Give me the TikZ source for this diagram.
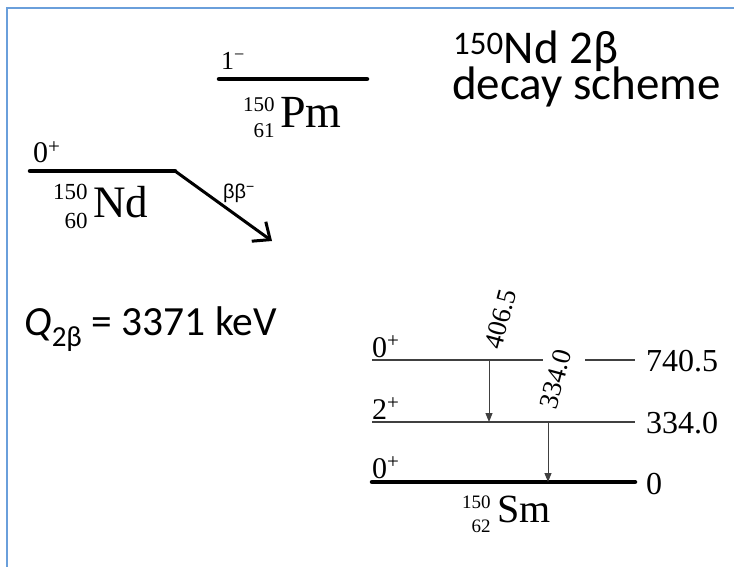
\documentclass[tikz,border=0pt]{standalone}
\usepackage{fontspec}
\setmainfont{Liberation Serif}
\newfontfamily\slidefont{Carlito}
\newfontfamily\labelsans{Liberation Sans}
\usetikzlibrary{arrows.meta}
\definecolor{FrameBlue}{HTML}{6A9FDB}
\definecolor{LevelGray}{HTML}{404040}
% nuclide: script size, row distance, mass, charge, symbol
\newcommand{\nuc}[5]{{\fontsize{#1}{#2}\selectfont\raisebox{-10pt}{\begin{tabular}[b]{@{}r@{}}#3\\#4\end{tabular}}}\kern.12em#5}
\tikzset{
    % Thin level line style
    levelline/.style={
        line width=1.1pt,
        draw=LevelGray
    },
    % Ground level line style
    groundline/.style={
        line width=4.5pt,
        draw=black,
        line cap=round
    },
    % Gamma transition arrow
    gammaarrow/.style={
        -{Triangle[length=9pt,width=7pt]},
        line width=1pt,
        draw=LevelGray,
        fill=LevelGray
    },
    % Beta decay arrow
    betaarrow/.style={
        -{Straight Barb[length=14pt,width=24pt,line width=3pt]},
        line width=3pt,
        draw=black
    },
    % Spin label
    spinlabel/.style={
        font=\fontsize{30}{30}\selectfont,
        inner sep=0pt,
        anchor=base west
    },
    % Energy label
    energylabel/.style={
        font=\fontsize{32}{32}\selectfont,
        inner sep=0pt,
        anchor=west
    },
    % Gamma energy label
    gammalabel/.style={
        font=\fontsize{27}{27}\selectfont,
        inner sep=0pt,
        rotate=75,
        anchor=base west
    },
    % Nuclide label
    nuclabel/.style={
        font=\fontsize{46}{46}\selectfont,
        inner sep=0pt,
        anchor=base west
    },
    % Slide text
    slidetext/.style={
        font=\slidefont\fontsize{47}{47}\selectfont,
        inner sep=0pt,
        align=left
    }
}

\begin{document}
\begin{tikzpicture}[x=1pt,y=-1pt]
    \useasboundingbox (0,0) rectangle (734,567);
    \draw[FrameBlue, line width=1.5pt] (7,567) -- (7,8) -- (734,8);

    % 150Pm
    \coordinate (pmL) at (219,79);
    \coordinate (pmR) at (367,79);
    \draw[groundline] (pmL) -- (pmR);
    \node[spinlabel, font=\fontsize{26}{26}\selectfont] (pmspin) at (221,70) {1\textsuperscript{−}};
    \node[nuclabel] (pm) at (243,128) {\nuc{21}{26}{150}{61}{Pm}};

    % 150Nd
    \coordinate (ndL) at (30,171);
    \coordinate (ndR) at (175,171);
    \coordinate (ndtip) at (272,241);
    \draw[groundline] (ndL) -- (ndR);
    \draw[betaarrow] (ndR) -- (ndtip);
    \node[spinlabel] (ndspin) at (33,163) {0\textsuperscript{+}};
    \node[nuclabel, font=\fontsize{45}{45}\selectfont] (nd) at (53,218) {\nuc{23}{28}{150}{60}{Nd}};
    \node[font=\labelsans\fontsize{20}{20}\selectfont, inner sep=0pt, anchor=base west] (bb) at (223,199) {ββ\textsuperscript{−}};

    % slide texts
    \node[slidetext, anchor=base west] (title) at (453,64) {\textsuperscript{150}Nd 2β};
    \node[slidetext, anchor=base west] (subtitle) at (452,100) {decay scheme};
    \node[slidetext, font=\slidefont\fontsize{41.5}{41.5}\selectfont, anchor=base west] (qval) at (24,335) {\textit{Q}\textsubscript{2β} = 3371 keV};

    % 150Sm levels
    \coordinate (smaL) at (372,360);
    \coordinate (smaM) at (543,360);
    \coordinate (smaN) at (585,360);
    \coordinate (smaR) at (635,360);
    \coordinate (smbL) at (372,422);
    \coordinate (smbR) at (635,422);
    \coordinate (smcL) at (372,482);
    \coordinate (smcR) at (635,482);
    \draw[levelline] (smaL) -- (smaM);
    \draw[levelline] (smaN) -- (smaR);
    \draw[levelline] (smbL) -- (smbR);
    \draw[groundline] (smcL) -- (smcR);

    \node[spinlabel] (smaspin) at (372,357) {0\textsuperscript{+}};
    \node[spinlabel] (smbspin) at (372,419) {2\textsuperscript{+}};
    \node[spinlabel] (smcspin) at (372,478) {0\textsuperscript{+}};

    \node[energylabel] (smaE) at (646,361) {740.5};
    \node[energylabel] (smbE) at (646,423) {334.0};
    \node[energylabel] (smcE) at (646,484) {0};

    % gamma transitions
    \coordinate (gaT) at (489,360);
    \coordinate (gaB) at (489,422);
    \coordinate (gbT) at (548,422);
    \coordinate (gbB) at (548,482);
    \draw[gammaarrow] (gaT) -- (gaB);
    \draw[gammaarrow] (gbT) -- (gbB);
    \node[gammalabel] (gaE) at (501,351) {406.5};
    \node[gammalabel] (gbE) at (556,411) {334.0};

    \node[nuclabel, font=\fontsize{40}{40}\selectfont] (sm) at (462,522) {\nuc{19}{24}{150}{62}{\kern2pt Sm}};
\end{tikzpicture}
\end{document}
